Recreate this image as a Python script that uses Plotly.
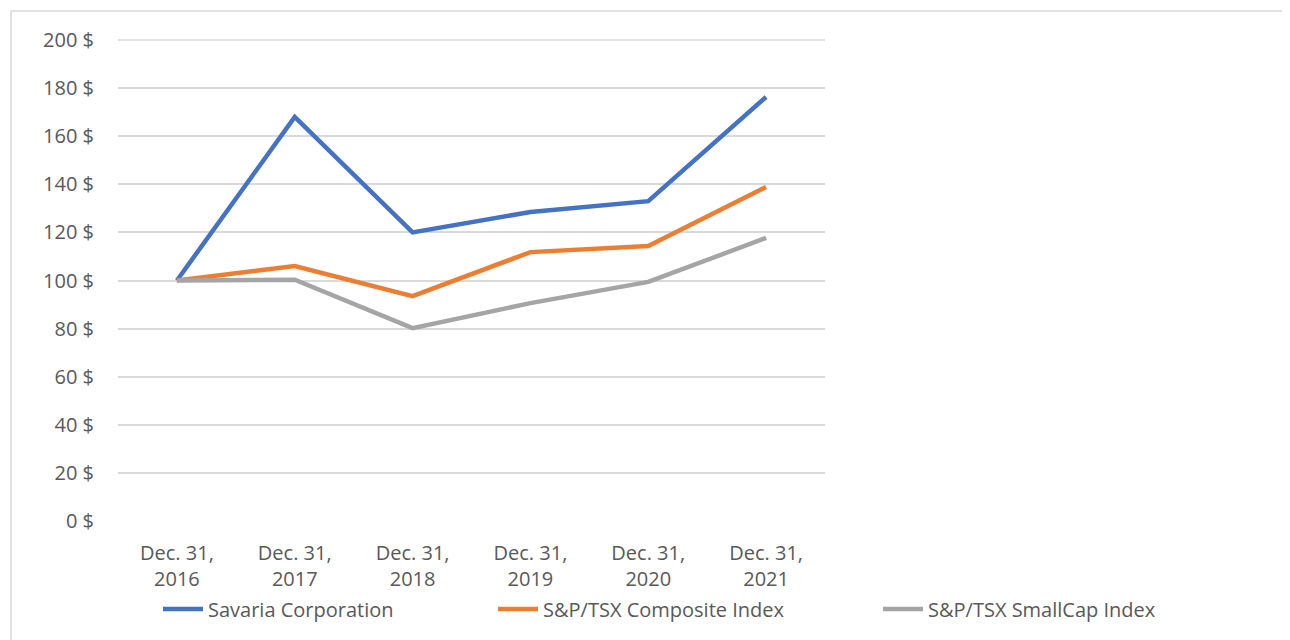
import plotly.graph_objects as go

categories = ["Dec. 31,<br>2016", "Dec. 31,<br>2017", "Dec. 31,<br>2018",
              "Dec. 31,<br>2019", "Dec. 31,<br>2020", "Dec. 31,<br>2021"]
savaria = [100, 168, 120, 128.5, 133, 176.3]
composite = [100, 106, 93.5, 111.8, 114.3, 138.9]
smallcap = [100, 100.3, 80.2, 90.6, 99.4, 117.7]
series_names = ["Savaria Corporation", "S&P/TSX Composite Index", "S&P/TSX SmallCap Index"]
colors = ["#4472C4", "#ED7D31", "#A5A5A5"]
y_ticks = [0, 20, 40, 60, 80, 100, 120, 140, 160, 180, 200]
y_ticktext = [f"{v} $" for v in y_ticks]

FONT = "Open Sans"
fig = go.Figure()
legends = ["legend", "legend2", "legend3"]
for vals, name, col, lg in zip([savaria, composite, smallcap], series_names, colors, legends):
    fig.add_trace(go.Scatter(x=categories, y=vals, name=name, mode="lines",
                             line=dict(color=col, width=4.5), legend=lg))

OFF = 8  # page body margin
W, H = 1290 - OFF, 640 - OFF
L, R, T, B = 118 - OFF, 825 - OFF, 40 - OFF, 521 - OFF
pw, ph = R - L, B - T

def px(x):
    return (x - OFF - L) / pw

def py(y):
    return (B - (y - OFF)) / ph

leg_common = dict(orientation="h", yanchor="middle", xanchor="left",
                  font=dict(family=FONT, size=20, color="#595959"),
                  bgcolor="rgba(0,0,0,0)", itemwidth=40, tracegroupgap=0)

fig.update_layout(
    width=W, height=H,
    margin=dict(l=L, r=W - R, t=T, b=H - B, pad=0),
    paper_bgcolor="white", plot_bgcolor="white",
    font=dict(family=FONT, size=20, color="#595959"),
    showlegend=True,
    legend=dict(x=px(158), y=py(609), **leg_common),
    legend2=dict(x=px(493), y=py(609), **leg_common),
    legend3=dict(x=px(878), y=py(609), **leg_common),
    xaxis=dict(type="category", range=[-0.5, 5.5], showgrid=False, showline=False,
               zeroline=False, ticks="", ticklabelstandoff=18,
               tickfont=dict(family=FONT, size=20, color="#595959")),
    yaxis=dict(range=[0, 200], tickvals=y_ticks, ticktext=y_ticktext, showgrid=True,
               gridcolor="#D9D9D9", gridwidth=1.5, zeroline=False, showline=False,
               ticks="", ticklabelstandoff=23,
               tickfont=dict(family=FONT, size=20, color="#595959")),
    shapes=[
        dict(type="line", xref="paper", yref="paper", x0=px(11), x1=px(1290),
             y0=py(11), y1=py(11), line=dict(color="#D9D9D9", width=1.5)),
        dict(type="line", xref="paper", yref="paper", x0=px(11), x1=px(11),
             y0=py(11), y1=py(640), line=dict(color="#D9D9D9", width=1.5)),
        dict(type="line", xref="paper", yref="paper", x0=0, x1=1,
             y0=1, y1=1, line=dict(color="#D9D9D9", width=1.5), layer="below"),
    ],
)

fig.write_html("out.html")
